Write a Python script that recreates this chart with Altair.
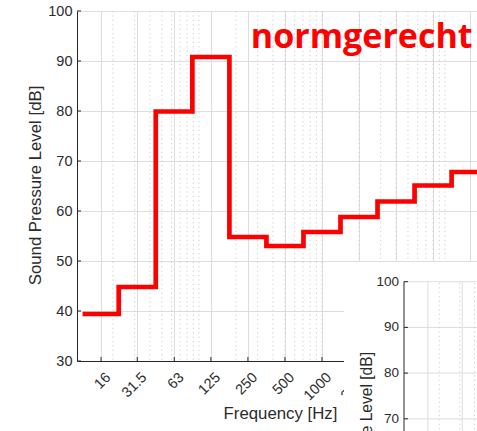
import math
import altair as alt
import pandas as pd

# Octave-band centre frequencies (Hz) and measured band levels (dB)
band_centres = [16, 31.5, 63, 125, 250, 500, 1000, 2000, 4000, 8000, 16000]
band_levels = [39.4, 44.8, 79.9, 90.8, 54.8, 53.0, 55.8, 58.8, 61.9, 65.1, 67.8]

# Axis ticks and grid positions
freq_ticks = [16, 31.5, 63, 125, 250, 500, 1000, 2000, 4000, 8000, 16000]
level_ticks = [30, 40, 50, 60, 70, 80, 90, 100]
minor_freqs = [20, 30, 40, 50, 60, 70, 80, 90,
               100, 200, 300, 400, 500, 600, 700, 800, 900,
               1000, 2000, 3000, 4000, 5000, 6000, 7000, 8000, 9000, 10000]

# Second panel (partly visible, lower right)
inset_level_ticks = [60, 70, 80, 90, 100]
inset_freq_ticks = [16, 31.5, 63]
inset_minor_freqs = [20, 30, 40, 50, 60, 70, 80, 90]

FONT = "Liberation Sans"
TXT = "#2b2b2b"
AXIS = "#262626"
GRID = "#dedede"
MINOR = "#cbcbcb"
RED = "#ff0000"

W, H = 400, 350

# ---------------- main panel ----------------
x_main = alt.Scale(type="log", domain=[10.2, 18200], nice=False)
y_main = alt.Scale(domain=[30, 100], nice=False, zero=False)

# step outline: each band spans centre/sqrt(2) .. centre*sqrt(2)
edges = [c / math.sqrt(2) for c in band_centres] + [band_centres[-1] * math.sqrt(2)]
steps = pd.DataFrame({"freq": edges, "level": band_levels + band_levels[-1:]})

x_axis = alt.Axis(
    values=freq_ticks, format="~g", title="Frequency [Hz]",
    grid=True, gridColor=GRID, gridWidth=1,
    domainColor=AXIS, domainWidth=1, ticks=False, tickSize=0,
    labelAngle=315, labelAlign="right", labelBaseline="middle",
    labelOffset=7, labelPadding=14, labelFlush=False, labelOverlap=False, labelBound=False,
    labelFont=FONT, labelFontSize=14.5, labelColor=TXT,
    titleFont=FONT, titleFontSize=16.8, titleFontWeight="normal", titleColor=TXT,
    titleX=203, titleY=57, titleAlign="center", titleBaseline="alphabetic", titleAngle=0,
    zindex=0,
)
y_axis = alt.Axis(
    values=level_ticks, title="Sound Pressure Level [dB]",
    grid=True, gridColor=GRID, gridWidth=1,
    domainColor=AXIS, domainWidth=1, ticks=False, tickSize=0,
    labelPadding=5, labelFlush=False, labelOverlap=False,
    labelFont=FONT, labelFontSize=14.5, labelColor=TXT,
    titleFont=FONT, titleFontSize=16.8, titleFontWeight="normal", titleColor=TXT,
    titleX=-42, titleY=174, titleAngle=270, titleAlign="center", titleBaseline="middle",
    zindex=0,
)

minor_grid = alt.Chart(pd.DataFrame({"freq": minor_freqs})).mark_rule(
    color=MINOR, strokeDash=[1.2, 3.2], strokeWidth=1, clip=True
).encode(x=alt.X("freq:Q", scale=x_main, axis=None))

step_line = alt.Chart(steps).mark_line(
    interpolate="step-after", color=RED, strokeWidth=4.7, clip=True
).encode(
    x=alt.X("freq:Q", scale=x_main, axis=x_axis),
    y=alt.Y("level:Q", scale=y_main, axis=y_axis),
)

# inward-pointing tick marks
x_ticks_in = alt.Chart(pd.DataFrame({"freq": freq_ticks})).mark_rule(
    color=AXIS, strokeWidth=1, clip=True
).encode(x=alt.X("freq:Q", scale=x_main, axis=None), y=alt.value(H), y2=alt.value(H - 4))

y_ticks_in = alt.Chart(pd.DataFrame({"level": level_ticks})).mark_rule(
    color=AXIS, strokeWidth=1
).encode(y=alt.Y("level:Q", scale=y_main, axis=None), x=alt.value(0), x2=alt.value(4))

note = alt.Chart(pd.DataFrame({"t": ["normgerecht"]})).mark_text(
    font="Open Sans", fontWeight="bold", fontSize=34, color=RED,
    align="right", baseline="alphabetic",
).encode(text="t:N", x=alt.value(395.5), y=alt.value(37))

# ---------------- second panel ----------------
x_in = alt.Scale(type="log", domain=[10, 100], range=[327, 444], nice=False)
y_in = alt.Scale(domain=[60, 100], range=[453.5, 270.7], nice=False, zero=False)

panel_bg = alt.Chart(pd.DataFrame({"k": [0]})).mark_rect(color="white").encode(
    x=alt.value(267), x2=alt.value(W + 10), y=alt.value(251), y2=alt.value(H + 80)
)

h_grid = alt.Chart(pd.DataFrame({"level": inset_level_ticks, "f0": 10, "f1": 100})).mark_rule(
    color=GRID, strokeWidth=1
).encode(
    x=alt.X("f0:Q", scale=x_in, axis=None), x2="f1:Q",
    y=alt.Y("level:Q", scale=y_in, axis=None),
)

v_grid = alt.Chart(pd.DataFrame({"freq": inset_freq_ticks, "l0": 60, "l1": 100})).mark_rule(
    color=GRID, strokeWidth=1
).encode(
    x=alt.X("freq:Q", scale=x_in, axis=None),
    y=alt.Y("l0:Q", scale=y_in, axis=None), y2="l1:Q",
)

v_minor = alt.Chart(pd.DataFrame({"freq": inset_minor_freqs, "l0": 60, "l1": 100})).mark_rule(
    color=MINOR, strokeDash=[1.2, 3.2], strokeWidth=1
).encode(
    x=alt.X("freq:Q", scale=x_in, axis=None),
    y=alt.Y("l0:Q", scale=y_in, axis=None), y2="l1:Q",
)

in_axis = alt.Chart(pd.DataFrame({"freq": [10], "l0": [60], "l1": [100]})).mark_rule(
    color=AXIS, strokeWidth=1
).encode(
    x=alt.X("freq:Q", scale=x_in, axis=None),
    y=alt.Y("l0:Q", scale=y_in, axis=None), y2="l1:Q",
)

in_ticks = alt.Chart(pd.DataFrame({"level": inset_level_ticks, "f0": 10})).mark_rule(
    color=AXIS, strokeWidth=1
).encode(
    x=alt.X("f0:Q", scale=x_in, axis=None), x2=alt.value(331),
    y=alt.Y("level:Q", scale=y_in, axis=None),
)

in_labels = alt.Chart(pd.DataFrame({"level": inset_level_ticks, "f0": 10})).mark_text(
    font=FONT, fontSize=13.5, color=TXT, align="right", baseline="middle", dx=-5
).encode(
    x=alt.X("f0:Q", scale=x_in, axis=None),
    y=alt.Y("level:Q", scale=y_in, axis=None),
    text=alt.Text("level:Q", format="d"),
)

in_title = alt.Chart(pd.DataFrame({"t": ["Sound Pressure Level [dB]"]})).mark_text(
    font=FONT, fontSize=15.6, color=TXT, angle=270, align="right", baseline="middle"
).encode(text="t:N", x=alt.value(290), y=alt.value(341))

chart = (
    alt.layer(
        minor_grid, step_line, x_ticks_in, y_ticks_in, note,
        panel_bg, h_grid, v_grid, v_minor, in_axis, in_ticks, in_labels, in_title,
    )
    .resolve_scale(x="independent", y="independent")
    .properties(
        width=W, height=H,
        autosize=alt.AutoSizeParams(type="none"),
        padding={"left": 77, "top": 11, "right": 0, "bottom": 70},
        background="white",
    )
    .configure_view(stroke=None)
)

chart.save("out.html", embed_options={"renderer": "svg", "actions": False})
